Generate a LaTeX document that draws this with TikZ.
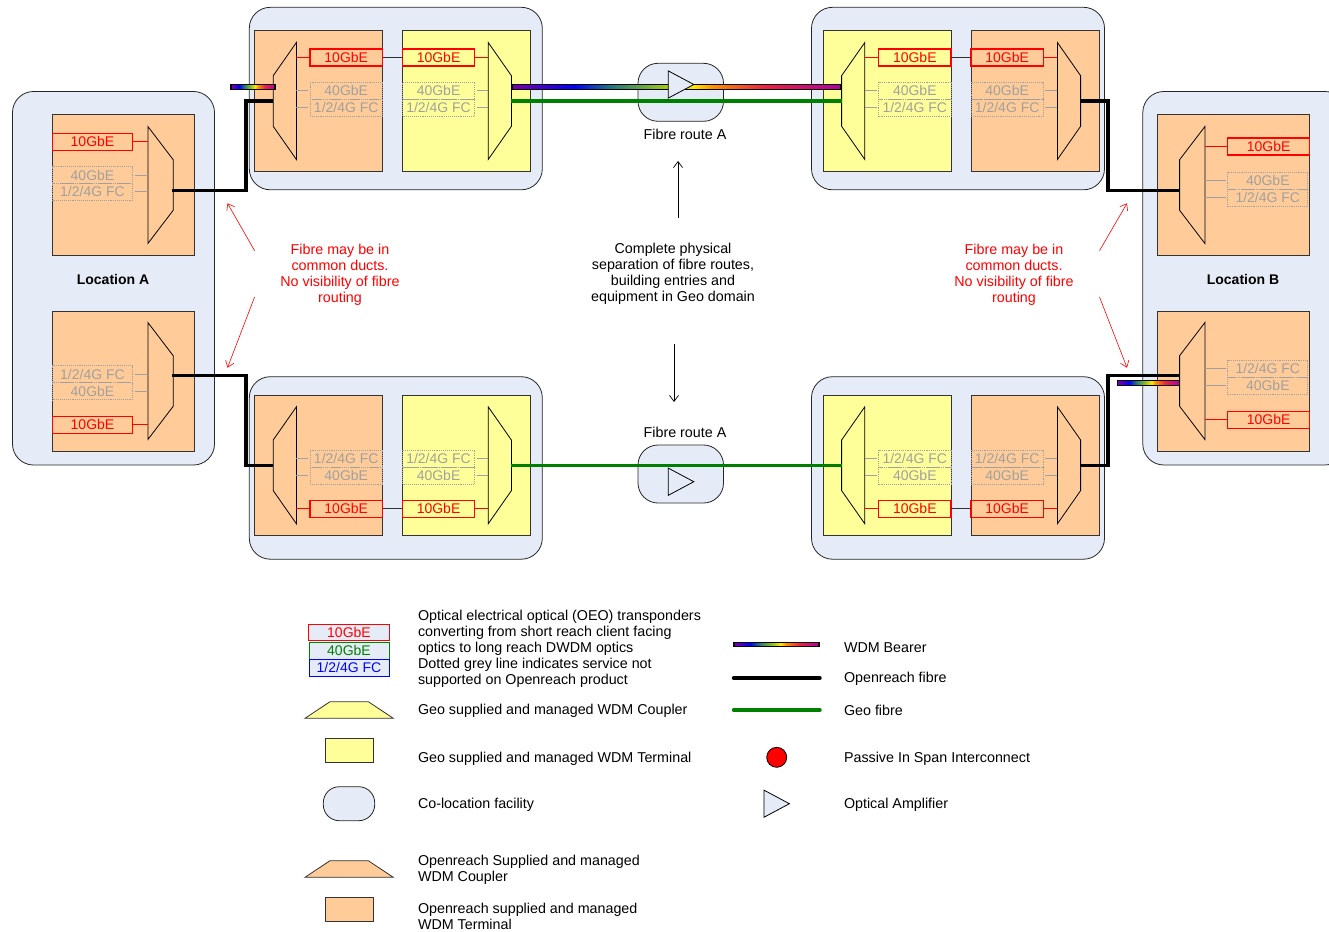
\documentclass[tikz,border=0pt]{standalone}
\usepackage{fontspec}
\setmainfont{Liberation Sans}
\usetikzlibrary{positioning,arrows.meta,calc}

\definecolor{sitefill}{HTML}{E6ECF7}
\definecolor{orangefill}{HTML}{FFCC99}
\definecolor{yellowfill}{HTML}{FFFF99}
\definecolor{greytext}{HTML}{A0A0A0}
\definecolor{geogreen}{HTML}{008000}
\definecolor{linkgrey}{HTML}{303030}
\definecolor{wdmpurple}{HTML}{7F00A8}
\definecolor{wdmteal}{HTML}{207880}
\definecolor{wdmlime}{HTML}{90C020}
\definecolor{wdmyellow}{HTML}{FFE800}
\definecolor{wdmorange}{HTML}{FF9000}
\definecolor{wdmred}{HTML}{F02040}
\definecolor{wdmmagenta}{HTML}{B000A0}
% the path covers the middle 50bp of a shading
\pgfdeclarehorizontalshading{wdmrainbow}{100bp}{
  color(0bp)=(wdmpurple); color(25bp)=(wdmpurple); color(34.5bp)=(blue); color(40bp)=(wdmteal);
  color(47.5bp)=(wdmlime); color(52.5bp)=(wdmyellow); color(55.5bp)=(wdmorange);
  color(63.5bp)=(wdmred); color(75bp)=(wdmmagenta); color(100bp)=(wdmmagenta)}

\tikzset{
  every node/.style={inner sep=0pt,outer sep=0pt,font=\fontsize{14.3}{16}\selectfont},
  sitebox/.style={draw=black!85,fill=sitefill,line width=0.8pt,rounded corners=21pt,anchor=north west},
  panelbox/.style={draw=black!80,line width=0.8pt,anchor=north west},
  txred/.style={draw=red,text=red,line width=1.1pt,minimum height=17pt,anchor=north west,font=\fontsize{14}{16}\selectfont},
  txgrey/.style={draw=greytext,text=greytext,densely dotted,line width=0.9pt,minimum height=17pt,anchor=north west,font=\fontsize{14}{16}\selectfont},
  stubred/.style={red,line width=0.7pt},
  stubgrey/.style={greytext,line width=0.8pt,shorten <=2pt},
  openfibre/.style={black,line width=3.4pt},
  geofibre/.style={geogreen,line width=3.4pt},
  bearer/.style={draw=black,line width=1.2pt,shade,shading=wdmrainbow,minimum height=5pt},
  note/.style={align=center,text=red},
  pointer/.style={red,line width=0.6pt,-{Straight Barb[length=6pt,width=9pt]}},
  notearrow/.style={black,line width=0.7pt,-{Straight Barb[length=6pt,width=9pt]}},
  legend/.style={align=left,anchor=west},
  keytx/.style={fill=sitefill,line width=1pt,minimum width=80,minimum height=17,font=\fontsize{14}{16}\selectfont},
  % wide edge of the coupler sits on the pic origin
  mux/.pic={
    \draw[pic actions,line width=0.8pt] (0,-58.5)--(23.2,-25.3)--(23.2,25.3)--(0,58.5)--cycle;
    \coordinate (-wide) at (0,0);
    \coordinate (-narrow) at (23.2,0);
  },
  amptri/.pic={
    \draw[fill=sitefill,draw=black,line width=0.8pt] (0,-13.6)--(25.5,0)--(0,13.6)--cycle;
  }
}

\begin{document}
\begin{tikzpicture}[x=1pt,y=-1pt]
  \useasboundingbox (0,0) rectangle (1329,931);
  % co-location boxes
  \node[sitebox,minimum width=202,minimum height=373.5] (siteA) at (12.5,91.5) {};
  \begin{scope}
    \clip (0,0) rectangle (1329,931);
    \node[sitebox,minimum width=203,minimum height=373.5] (siteB) at (1142.8,91.5) {};
  \end{scope}
  \foreach \nm/\x/\y in {TL/249.3/7.3,BL/249.3/376.7,TR/811.5/7.3,BR/811.5/376.7}
    \node[sitebox,minimum width=293,minimum height=182.5] (site\nm) at (\x,\y) {};
  \node[sitebox,rounded corners=20pt,minimum width=85.5,minimum height=58] (siteUp) at (638,63.3) {};
  \node[sitebox,rounded corners=20pt,minimum width=85.5,minimum height=58] (siteDn) at (638,445) {};

  % terminals
  \foreach \nm/\x/\y/\wdt/\clr in {
    A1/52.5/114.7/141.5/orangefill, A2/52.5/311/141.5/orangefill,
    TL1/254.3/30.7/128.2/orangefill, TL2/402.5/30.7/127.9/yellowfill,
    BL1/254.3/395.3/128.2/orangefill, BL2/402.5/395.3/127.9/yellowfill,
    TR1/823/30.7/128.1/yellowfill, TR2/971/30.7/128/orangefill,
    BR1/823/395.3/128.1/yellowfill, BR2/971/395.3/128/orangefill,
    B1/1157.3/114.7/152.1/orangefill, B2/1157.3/311/152.1/orangefill}
    \node[panelbox,fill=\clr,minimum width=\wdt,minimum height=140.5] (panel\nm) at (\x,\y) {};

  % couplers
  \foreach \nm/\x/\y/\sx/\clr in {
    A1/147.9/185/1.09/orangefill, A2/147.9/381/1.09/orangefill,
    TL1/296.4/101/-1/orangefill, TL2/488.2/101/1/yellowfill,
    BL1/296.4/465.3/-1/orangefill, BL2/488.2/465.3/1/yellowfill,
    TR1/864.8/101/-1/yellowfill, TR2/1057.4/101/1/orangefill,
    BR1/864.8/465.3/-1/yellowfill, BR2/1057.4/465.3/1/orangefill,
    B1/1204.9/185/-1.09/orangefill, B2/1204.9/381/-1.09/orangefill}
    \pic[draw=black,fill=\clr,xscale=\sx] (m\nm) at (\x,\y) {mux};

  % transponders and their stubs
  \foreach \nm/\x/\ya/\yb/\yc/\wdt/\wdr/\sd in {
    A1/52.5/133.3/166.7/183.3/80/80/east, A2/52.5/416.3/382.7/365.7/80/80/east,
    TL1/310/49/82.3/99.3/72.5/72.5/west, TL2/402.5/49/82.3/99.3/72.1/72.1/east,
    BL1/310/500.3/467/450/72.5/72.5/west, BL2/402.5/500.3/467/450/72.1/72.1/east,
    TR1/878.6/49/82.3/99.3/72.4/72.4/west, TR2/971/49/82.3/99.3/72.3/72.3/east,
    BR1/878.6/500.3/467/450/72.4/72.4/west, BR2/971/500.3/467/450/72.3/72.3/east,
    B1/1227.8/138/172.3/189.3/80/81.6/west, B2/1227.8/411.3/377.3/360.3/80/81.6/west}
  {
    \node[txred,minimum width=\wdr] (t\nm) at (\x,\ya) {10GbE};
    \node[txgrey,minimum width=\wdt] (f\nm) at (\x,\yb) {40GbE};
    \node[txgrey,minimum width=\wdt] (c\nm) at (\x,\yc) {1/2/4G FC};
    \draw[stubred] (t\nm.\sd) -- (t\nm.\sd -| m\nm-wide);
    \draw[stubgrey] (f\nm.\sd) -- (f\nm.\sd -| m\nm-wide);
    \draw[stubgrey] (c\nm.\sd) -- (c\nm.\sd -| m\nm-wide);
  }
  \foreach \lft/\rgt in {TL1/TL2,BL1/BL2,TR1/TR2,BR1/BR2}
    \draw[draw=linkgrey,line width=1pt] (t\lft.east) -- (t\rgt.west);

  % fibres
  \coordinate (portA1) at (171.5,190.5);
  \coordinate (portA2) at (171.5,375.7);
  \coordinate (portB1) at (1179.6,190.4);
  \coordinate (portB2) at (1179.6,375.7);
  \coordinate (jogW) at (246,0);
  \coordinate (jogE) at (1108,0);
  \draw[openfibre] (portA1) -- (portA1 -| jogW) -- (mTL1-narrow -| jogW) -- (mTL1-narrow);
  \draw[openfibre] (portA2) -- (portA2 -| jogW) -- (mBL1-narrow -| jogW) -- (mBL1-narrow);
  \draw[openfibre] (mTR2-narrow) -- (mTR2-narrow -| jogE) -- (portB1 -| jogE) -- (portB1);
  \draw[openfibre] (mBR2-narrow) -- (mBR2-narrow -| jogE) -- (portB2 -| jogE) -- (portB2);
  \draw[geofibre] (mTL2-narrow) -- (mTR1-narrow);
  \draw[geofibre] (mBL2-narrow) -- (mBR1-narrow);
  \node[bearer,minimum width=44] (wdmA) at (253,86.7) {};
  \node[bearer,minimum width=329] (wdmTop) at (676.5,86.7) {};
  \node[bearer,minimum width=62] (wdmB) at (1148.5,383) {};
  \pic (ampUp) at (668.3,84.5) {amptri};
  \pic (ampDn) at (668.3,481.7) {amptri};

  % labels
  \node (routeUp) at (685,134) {Fibre route A};
  \node (routeDn) at (685,432) {Fibre route A};
  \node[font=\fontsize{14}{16}\selectfont\bfseries] (locA) at (113,279.3) {Location A};
  \node[font=\fontsize{14}{16}\selectfont\bfseries] (locB) at (1243,279.3) {Location B};
  \node[note] (noteW) at (340,274.5) {Fibre may be in\\common ducts.\\No visibility of fibre\\routing};
  \node[note] (noteE) at (1014,274.5) {Fibre may be in\\common ducts.\\No visibility of fibre\\routing};
  \node[align=center] (sepText) at (673,273.5) {Complete physical\\separation of fibre routes,\\building entries and\\equipment in Geo domain};

  % arrows
  \coordinate (tailNW) at (254.6,250.7);
  \coordinate (tipNW) at (227.5,203.3);
  \coordinate (tailSW) at (254.6,297);
  \coordinate (tipSW) at (227.5,367.7);
  \coordinate (tailNE) at (1099.5,250.7);
  \coordinate (tipNE) at (1127,203.3);
  \coordinate (tailSE) at (1099.5,297);
  \coordinate (tipSE) at (1127,367.7);
  \foreach \n in {NW,SW,NE,SE} \draw[pointer] (tail\n) -- (tip\n);
  \coordinate (tailUp) at (678,218);
  \coordinate (tipUp) at (678,161);
  \coordinate (tailDn) at (674,344);
  \coordinate (tipDn) at (674,402);
  \draw[notearrow] (tailUp) -- (tipUp);
  \draw[notearrow] (tailDn) -- (tipDn);

  % key, left column
  \node[keytx,draw=red,text=red,minimum width=81,minimum height=16.5] (keyTen) at (349,632.7) {10GbE};
  \node[keytx,draw=geogreen,text=geogreen] (keyForty) at (349,650.5) {40GbE};
  \node[keytx,draw=blue,text=blue] (keyFc) at (349,667.5) {1/2/4G FC};
  \draw[black!80,fill=yellowfill,line width=0.8pt] (305,718.3)--(330,701.7)--(368.3,701.7)--(393.3,718.3)--cycle;
  \node[panelbox,fill=yellowfill,minimum width=47.7,minimum height=24] (keyGeo) at (325.3,738.7) {};
  \node[sitebox,rounded corners=16pt,minimum width=51.4,minimum height=34] (keySite) at (323.3,786.7) {};
  \draw[black!80,fill=orangefill,line width=0.8pt] (305,877.3)--(330,860.7)--(368.3,860.7)--(393.3,877.3)--cycle;
  \node[panelbox,fill=orangefill,minimum width=47.7,minimum height=23.6] (keyOpen) at (325.3,897.7) {};
  \node[legend] (txtOeo) at (418,649) {Optical electrical optical (OEO) transponders\\converting from short reach client facing\\optics to long reach DWDM optics\\Dotted grey line indicates service not\\supported on Openreach product};
  \node[legend] (txtCoupler) at (418,710.5) {Geo supplied and managed WDM Coupler};
  \node[legend] (txtTerm) at (418,758.5) {Geo supplied and managed WDM Terminal};
  \node[legend] (txtSite) at (418,804.5) {Co-location facility};
  \node[legend] (txtOpenC) at (418,869.5) {Openreach Supplied and managed\\WDM Coupler};
  \node[legend] (txtOpenT) at (418,916) {Openreach supplied and managed\\WDM Terminal};

  % key, right column
  \node[bearer,minimum width=85,minimum height=4.5] (keyWdm) at (776.5,644.5) {};
  \coordinate (keyBlackA) at (733.5,678);
  \coordinate (keyBlackB) at (820,678);
  \coordinate (keyGreenA) at (733.5,710);
  \coordinate (keyGreenB) at (820,710);
  \draw[openfibre,line cap=round] (keyBlackA) -- (keyBlackB);
  \draw[geofibre,line cap=round] (keyGreenA) -- (keyGreenB);
  \node[circle,draw=black,fill=red,line width=0.8pt,minimum size=20] (keyPass) at (776.7,757.3) {};
  \pic (keyAmp) at (763.9,803.7) {amptri};
  \node[legend] (txtWdm) at (844,648) {WDM Bearer};
  \node[legend] (txtBlack) at (844,678.5) {Openreach fibre};
  \node[legend] (txtGreen) at (844,710) {Geo fibre};
  \node[legend] (txtPass) at (844,758.5) {Passive In Span Interconnect};
  \node[legend] (txtAmp) at (844,804.5) {Optical Amplifier};
\end{tikzpicture}
\end{document}
